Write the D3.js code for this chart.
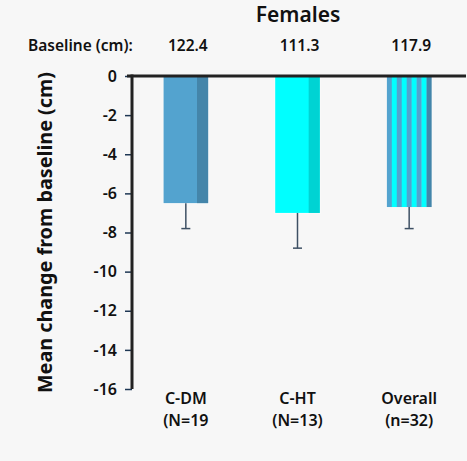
<!DOCTYPE html>
<html>
<head>
<meta charset="utf-8">
<script src="https://cdn.jsdelivr.net/npm/d3@7"></script>
<style>
  html, body { margin: 0; padding: 0; background: #f7f7f7; }
  svg { display: block; }
  text { font-family: "Noto Sans", "Open Sans", sans-serif; fill: #111; }
</style>
</head>
<body>
<script>
// Mean change in waist circumference from baseline, females
const groups = ["C-DM", "C-HT", "Overall"];
const groupCounts = ["(N=19", "(N=13)", "(n=32)"];
const baselines = ["122.4", "111.3", "117.9"];
const meanChange = [-6.5, -7.0, -6.7];
const errorLow = [-7.8, -8.8, -7.8];
const yTicks = [0, -2, -4, -6, -8, -10, -12, -14, -16];

const W = 467, H = 461;
const FONT = "'Noto Sans', 'Open Sans', sans-serif";
const svg = d3.select("body").append("svg")
  .attr("width", W).attr("height", H);

const x = d3.scaleBand().domain(groups).range([130, 465])
  .paddingInner(0.6).paddingOuter(0.3);
const y = d3.scaleLinear().domain([-16, 0]).range([389, 76]);

const blue = "#53a3cf", blueDark = "#4485aa";
const cyan = "#00ffff", cyanDark = "#00d3d3";

// Bars
const bw = x.bandwidth();
groups.forEach((g, i) => {
  const g0 = svg.append("g");
  const x0 = x(g), yTop = y(0), hgt = y(meanChange[i]) - y(0);
  if (i < 2) {
    const main = i === 0 ? blue : cyan, dark = i === 0 ? blueDark : cyanDark;
    g0.append("rect").attr("x", x0).attr("y", yTop).attr("width", bw).attr("height", hgt)
      .attr("fill", main);
    g0.append("rect").attr("x", x0 + bw * 0.75).attr("y", yTop).attr("width", bw * 0.25).attr("height", hgt)
      .attr("fill", dark);
  } else {
    // striped bar combining both groups
    const n = 9, sw = bw / n;
    d3.range(n).forEach(k => {
      g0.append("rect").attr("x", x0 + k * sw).attr("y", yTop)
        .attr("width", sw + 0.3).attr("height", hgt)
        .attr("fill", k === n - 1 ? blueDark : (k % 2 === 0 ? blue : cyan));
    });
  }
  g0.append("rect").attr("x", x0 - 0.5).attr("y", yTop).attr("width", bw + 1).attr("height", hgt + 0.5)
    .attr("fill", "none").attr("stroke", "#ffffff").attr("stroke-opacity", 0.35).attr("stroke-width", 1);
});

// Error bars (lower whisker)
groups.forEach((g, i) => {
  const cx = x(g) + bw / 2;
  svg.append("line").attr("x1", cx).attr("x2", cx)
    .attr("y1", y(meanChange[i])).attr("y2", y(errorLow[i]))
    .attr("stroke", "#3e5064").attr("stroke-width", 1.5);
  svg.append("line").attr("x1", cx - 4.5).attr("x2", cx + 4.5)
    .attr("y1", y(errorLow[i])).attr("y2", y(errorLow[i]))
    .attr("stroke", "#3e5064").attr("stroke-width", 1.5);
});

// Y axis
const yAxis = d3.axisLeft(y).tickValues(yTicks).tickFormat(d => String(d))
  .tickSize(7).tickPadding(8);
const ya = svg.append("g").attr("transform", "translate(132,0)").call(yAxis);
ya.select(".domain").remove();
ya.selectAll(".tick line").attr("stroke", "#1e3754").attr("stroke-width", 1.5);
ya.selectAll(".tick text").attr("font-size", 16).attr("font-weight", 600)
  .attr("font-family", FONT).attr("fill", "#111");
svg.append("line").attr("x1", 132).attr("x2", 132).attr("y1", y(0) - 1.5).attr("y2", y(-16))
  .attr("stroke", "#222").attr("stroke-width", 3);
// Zero line
svg.append("line").attr("x1", 127).attr("x2", 466).attr("y1", y(0)).attr("y2", y(0))
  .attr("stroke", "#222").attr("stroke-width", 3);

// Y axis title
svg.append("text")
  .attr("transform", `translate(52,${(y(0) + y(-16)) / 2}) rotate(-90)`)
  .attr("text-anchor", "middle").attr("font-size", 19.8).attr("font-weight", 700)
  .text("Mean change from baseline (cm)");

// Title
svg.append("text").attr("x", 298).attr("y", 22).attr("text-anchor", "middle")
  .attr("font-size", 21).attr("font-weight", 600).text("Females");

// Baseline row
svg.append("text").attr("x", 28).attr("y", 51).attr("font-size", 15.5).attr("font-weight", 600)
  .text("Baseline (cm):");
groups.forEach((g, i) => {
  svg.append("text").attr("x", x(g) + bw / 2 + 2).attr("y", 51).attr("text-anchor", "middle")
    .attr("font-size", 15.5).attr("font-weight", 600).text(baselines[i]);
});

// Category labels
groups.forEach((g, i) => {
  const cx = x(g) + bw / 2;
  svg.append("text").attr("x", cx).attr("y", 404).attr("text-anchor", "middle")
    .attr("font-size", 16).attr("font-weight", 600).text(g);
  svg.append("text").attr("x", cx).attr("y", 426).attr("text-anchor", "middle")
    .attr("font-size", 16).attr("font-weight", 600).text(groupCounts[i]);
});
</script>
</body>
</html>
